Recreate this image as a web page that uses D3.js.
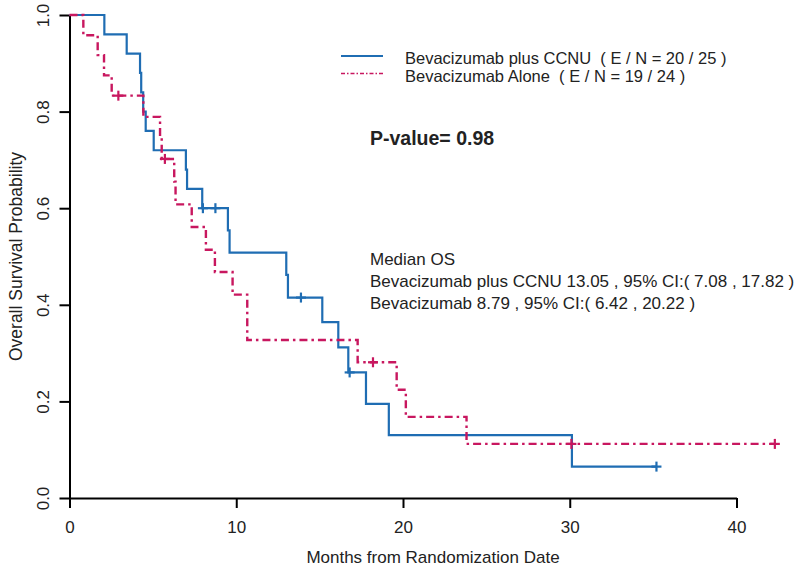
<!DOCTYPE html>
<html>
<head>
<meta charset="utf-8">
<script src="https://cdn.jsdelivr.net/npm/d3@7"></script>
<style>
  body { margin: 0; background: #fff; }
  text { font-family: "Liberation Sans", Arial, sans-serif; fill: #222; }
</style>
</head>
<body>
<svg id="chart" width="800" height="573"></svg>
<script>
// step points (time in months, survival)
var ccnuTimes = [0, 2.09, 3.43, 4.23, 4.30, 4.42, 4.57, 5.05, 6.98, 7.05, 7.96, 9.50, 9.60, 13.00, 13.10, 15.16, 16.12, 16.72, 17.78, 19.15, 30.13, 35.2];
var ccnuSurv = [1, 0.96, 0.92, 0.88, 0.84, 0.80, 0.76, 0.72, 0.68, 0.64, 0.60, 0.554, 0.508, 0.462, 0.415, 0.364, 0.312, 0.260, 0.195, 0.130, 0.065, 0.065];
var ccnuCensorTimes = [8.0, 8.75, 13.88, 16.8, 35.2];
var ccnuCensorSurv = [0.60, 0.60, 0.415, 0.260, 0.065];

var aloneTimes = [0, 0.83, 1.69, 2.07, 2.53, 4.43, 5.43, 5.53, 6.28, 6.36, 7.33, 8.18, 8.72, 9.78, 10.66, 17.28, 19.62, 20.17, 23.81, 42.3];
var aloneSurv = [1, 0.958, 0.917, 0.875, 0.833, 0.789, 0.746, 0.702, 0.655, 0.608, 0.561, 0.514, 0.468, 0.421, 0.327, 0.281, 0.224, 0.168, 0.112, 0.112];
var aloneCensorTimes = [2.93, 5.72, 18.2, 30.1, 42.3];
var aloneCensorSurv = [0.833, 0.702, 0.281, 0.112, 0.112];

var xTicks = [0, 10, 20, 30, 40];
var yTicks = [0, 0.2, 0.4, 0.6, 0.8, 1.0];

var legendLabels = ["Bevacizumab plus CCNU  ( E / N = 20 / 25 )", "Bevacizumab Alone  ( E / N = 19 / 24 )"];
var pValueLabel = "P-value= 0.98";
var medianLines = ["Median OS",
  "Bevacizumab plus CCNU 13.05 , 95% CI:( 7.08 , 17.82 )",
  "Bevacizumab 8.79 , 95% CI:( 6.42 , 20.22 )"];

var blue = "#1f6db3";
var red = "#c8175f";

var svg = d3.select("#chart");

var xScale = d3.scaleLinear().domain([0, 40]).range([69.5, 736.5]);
var yScale = d3.scaleLinear().domain([0, 1]).range([498, 15]);

// axes
var bottomAxis = d3.axisBottom(xScale)
  .tickValues(xTicks)
  .tickFormat(d3.format("d"))
  .tickSizeInner(10)
  .tickSizeOuter(0)
  .tickPadding(13);

var leftAxis = d3.axisLeft(yScale)
  .tickValues(yTicks)
  .tickFormat(d3.format(".1f"))
  .tickSizeInner(10)
  .tickSizeOuter(0);

var xAxis = svg.append("g")
  .attr("transform", `translate(0, ${yScale(0)})`)
  .call(bottomAxis);

var yAxis = svg.append("g")
  .attr("transform", `translate(${xScale(0)}, 0)`)
  .call(leftAxis);

[xAxis, yAxis].forEach(function(ax) {
  ax.selectAll("path, line").attr("stroke", "#000").attr("stroke-width", 2);
  ax.selectAll("text").style("font-size", "17px").attr("fill", "#333");
});

// rotate the y tick labels like R does
yAxis.selectAll(".tick text")
  .attr("x", null)
  .attr("dy", null)
  .attr("text-anchor", "middle")
  .attr("transform", "translate(-21, 0) rotate(-90)");

// axis titles
svg.append("text")
  .attr("x", (xScale(0) + xScale(40)) / 2 + 30)
  .attr("y", 563)
  .attr("text-anchor", "middle")
  .style("font-size", "17px")
  .attr("fill", "#333")
  .text("Months from Randomization Date");

svg.append("text")
  .attr("transform", `translate(22, ${(yScale(0) + yScale(1)) / 2}) rotate(-90)`)
  .attr("text-anchor", "middle")
  .style("font-size", "17.5px")
  .attr("fill", "#333")
  .text("Overall Survival Probability");

// curves
var stepLine = d3.line()
  .x(d => xScale(d[0]))
  .y(d => yScale(d[1]))
  .curve(d3.curveStepAfter);

var ccnuData = ccnuTimes.map((t, i) => [t, ccnuSurv[i]]);
var aloneData = aloneTimes.map((t, i) => [t, aloneSurv[i]]);

svg.append("path")
  .datum(ccnuData)
  .attr("d", stepLine)
  .attr("fill", "none")
  .attr("stroke", blue)
  .attr("stroke-width", 2.2);

svg.append("path")
  .datum(aloneData)
  .attr("d", stepLine)
  .attr("fill", "none")
  .attr("stroke", red)
  .attr("stroke-width", 2.4)
  .attr("stroke-dasharray", "8,4,2.5,4");

// censor marks
function drawCensors(times, surv, color) {
  var g = svg.append("g");
  times.forEach(function(t, i) {
    var cx = xScale(t), cy = yScale(surv[i]);
    g.append("line")
      .attr("x1", cx - 5).attr("x2", cx + 5)
      .attr("y1", cy).attr("y2", cy)
      .attr("stroke", color).attr("stroke-width", 2.2);
    g.append("line")
      .attr("x1", cx).attr("x2", cx)
      .attr("y1", cy - 5).attr("y2", cy + 5)
      .attr("stroke", color).attr("stroke-width", 2.2);
  });
}
drawCensors(ccnuCensorTimes, ccnuCensorSurv, blue);
drawCensors(aloneCensorTimes, aloneCensorSurv, red);

// legend
var legend = svg.append("g");
legend.append("line")
  .attr("x1", 341).attr("x2", 383).attr("y1", 56).attr("y2", 56)
  .attr("stroke", blue).attr("stroke-width", 2.2);
legend.append("line")
  .attr("x1", 341).attr("x2", 383).attr("y1", 73.5).attr("y2", 73.5)
  .attr("stroke", red).attr("stroke-width", 1.6)
  .attr("stroke-dasharray", "4,2,1.5,2");

legend.selectAll("text.lab")
  .data(legendLabels)
  .enter()
  .append("text")
  .attr("class", "lab")
  .attr("x", 405)
  .attr("y", (d, i) => 64 + i * 18)
  .attr("xml:space", "preserve")
  .style("white-space", "pre")
  .style("font-size", "16.5px")
  .text(d => d);

svg.append("text")
  .attr("x", 370)
  .attr("y", 145)
  .style("font-size", "19.5px")
  .style("font-weight", "bold")
  .attr("fill", "#111")
  .text(pValueLabel);

svg.selectAll("text.median")
  .data(medianLines)
  .enter()
  .append("text")
  .attr("class", "median")
  .attr("x", 370)
  .attr("y", (d, i) => 265 + i * 22)
  .style("font-size", "17px")
  .text(d => d);
</script>
</body>
</html>
